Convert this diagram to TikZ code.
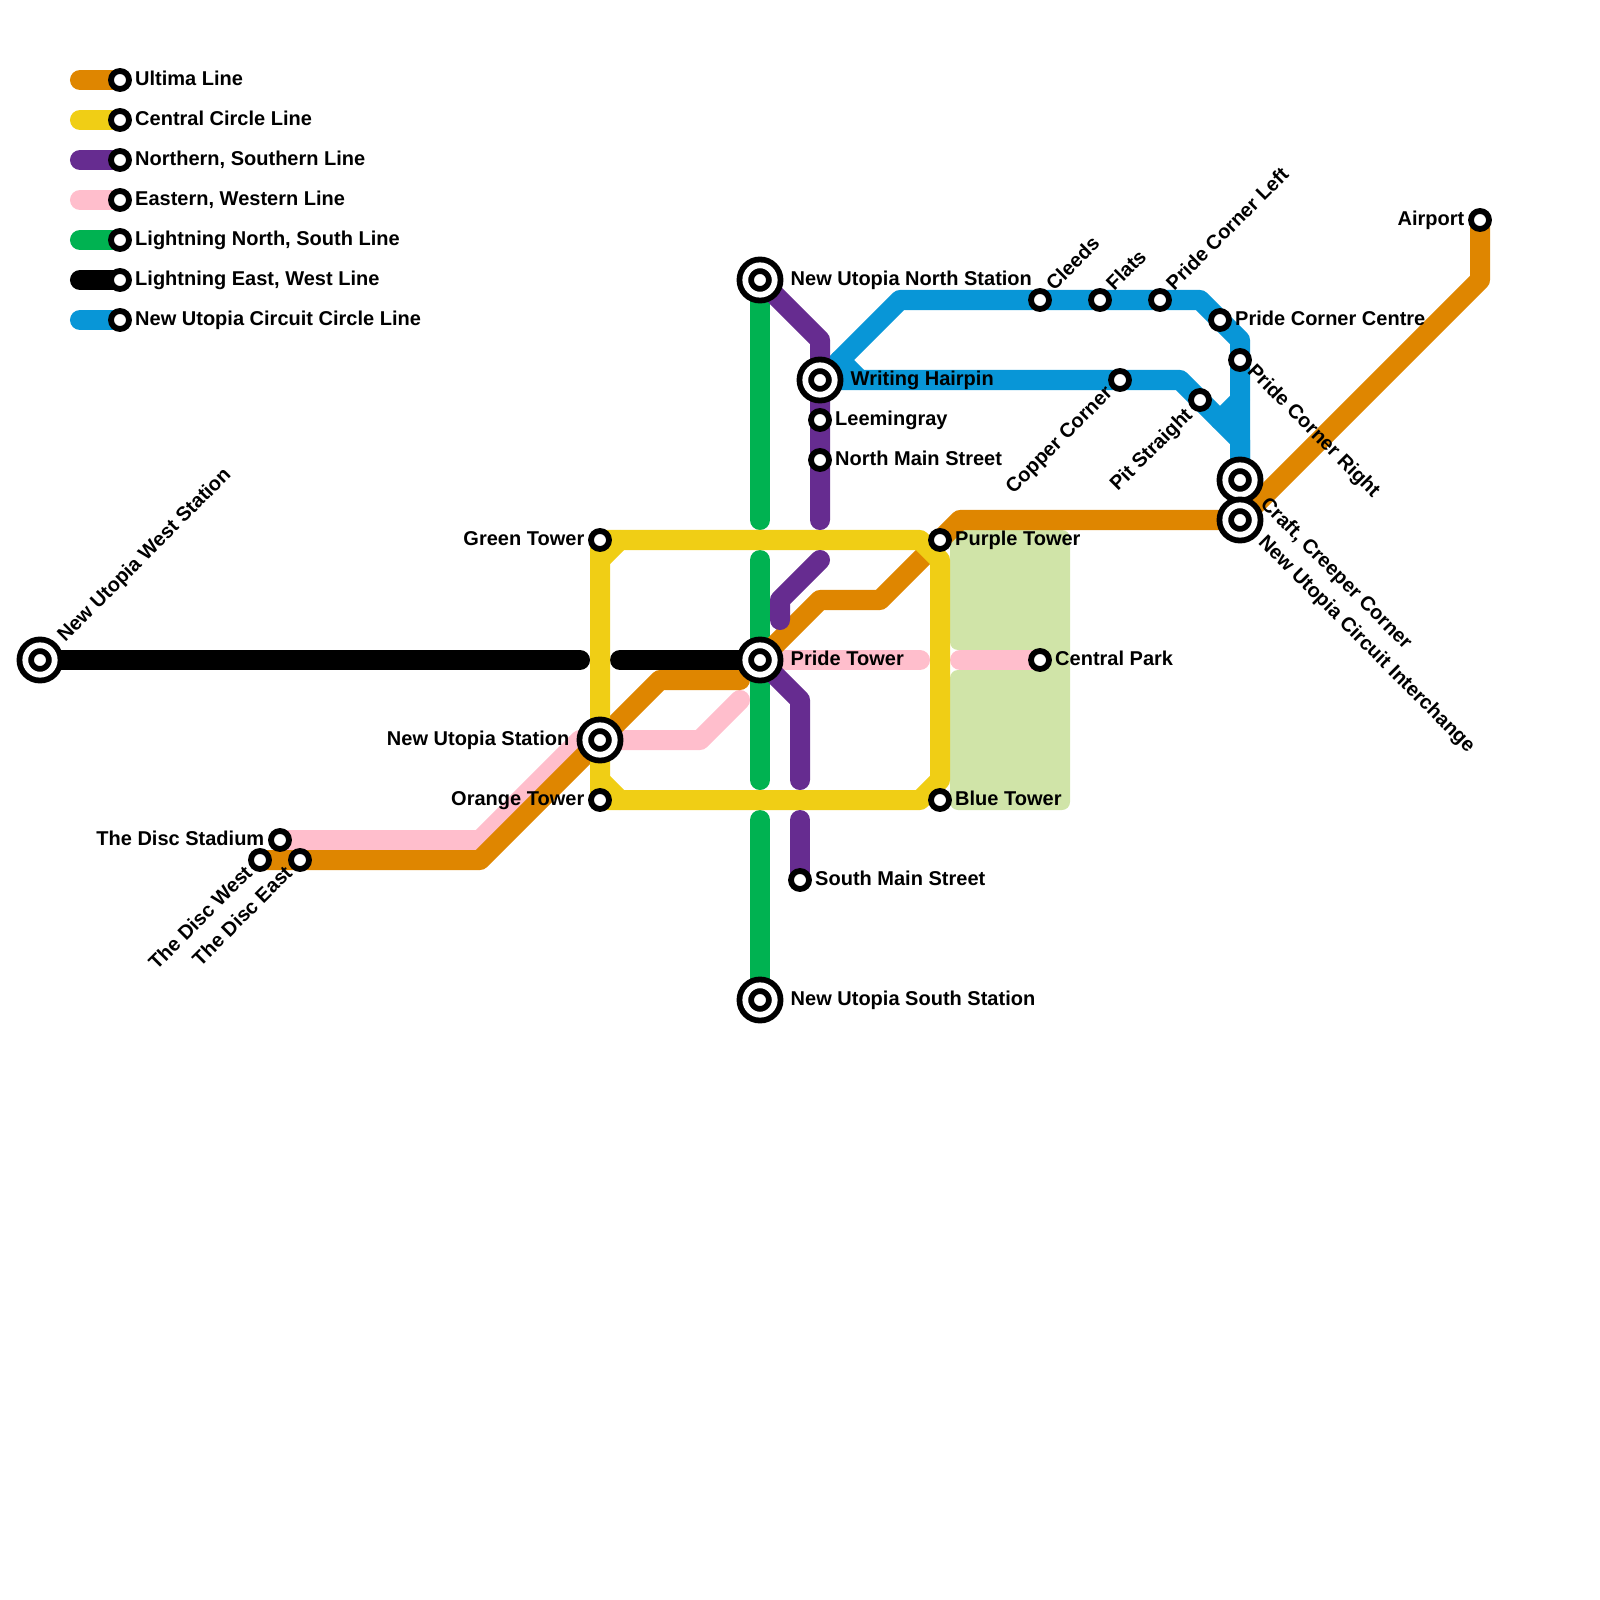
\documentclass[tikz,border=0pt]{standalone}
\usepackage{fontspec}
\setmainfont{Liberation Sans}
\usetikzlibrary{positioning}
\definecolor{ultima}{HTML}{DF8600}
\definecolor{central}{HTML}{F0CE15}
\definecolor{northern}{HTML}{662C90}
\definecolor{eastern}{HTML}{FFBECC}
\definecolor{lightning}{HTML}{00B251}
\definecolor{circuit}{HTML}{0896D7}
\definecolor{parkland}{HTML}{D0E4A8}
\tikzset{
  metro/.style={line width=.2cm,line cap=round,line join=round},
  stn/.style={shape=circle,draw=black,fill=white,line width=.058cm,inner sep=0pt,outer sep=0pt,minimum size=.18cm},
  bigstn/.style={shape=circle,draw=black,fill=white,line width=.058cm,double=white,double distance=.058cm,inner sep=0pt,outer sep=0pt,minimum size=.294cm},
  txt/.style={font=\fontsize{5.69}{7}\selectfont\bfseries,inner sep=0pt,text height=.15cm,text depth=.04cm},
  rlbl/.style={txt,right=.055cm of #1},
  llbl/.style={txt,left=.06cm of #1},
  bigrlbl/.style={txt,right=.153cm of #1},
  biglbl/.style={txt,left=.153cm of #1},
  uplbl/.style={txt,rotate=45,anchor=west},
  downlbl/.style={txt,rotate=-45,anchor=west},
  backlbl/.style={txt,rotate=45,anchor=east}
}
\begin{document}
\begin{tikzpicture}[x=.01cm,y=-.01cm]
\useasboundingbox (0,0) rectangle (1600,1600);

\fill[parkland,rounded corners=.08cm] (950,650) -- (1040,650) -- (1040,670) -- (950,670) -- (950,810) -- (1070,810) -- (1070,530) -- (950,530) -- cycle;

% stations
\coordinate (utopiawest) at (40,660);
\coordinate (utopianorth) at (760,280);
\coordinate (utopiasouth) at (760,1000);
\coordinate (utopiamain) at (600,740);
\coordinate (pride) at (760,660);
\coordinate (hairpin) at (820,380);
\coordinate (craft) at (1240,480);
\coordinate (interchange) at (1240,520);
\coordinate (greentower) at (600,540);
\coordinate (orangetower) at (600,800);
\coordinate (purpletower) at (940,540);
\coordinate (bluetower) at (940,800);
\coordinate (centralpark) at (1040,660);
\coordinate (southmain) at (800,880);
\coordinate (stadium) at (280,840);
\coordinate (discwest) at (260,860);
\coordinate (disceast) at (300,860);
\coordinate (airport) at (1480,220);

% free ends at the gaps
\coordinate (blackl) at (580,660);
\coordinate (blackr) at (620,660);
\coordinate (greena) at (760,520);
\coordinate (greenb) at (760,560);
\coordinate (greenc) at (760,780);
\coordinate (greend) at (760,820);
\coordinate (purplea) at (820,520);
\coordinate (purpleb) at (820,560);
\coordinate (purplec) at (780,620);
\coordinate (purpled) at (800,780);
\coordinate (purplee) at (800,820);
\coordinate (orangeend) at (740,680);
\coordinate (pinkend) at (740,700);
\coordinate (pinka) at (920,660);
\coordinate (pinkb) at (960,660);
\coordinate (yellowa) at (620,540);
\coordinate (yellowb) at (600,560);
\coordinate (yellowc) at (600,780);
\coordinate (yellowd) at (620,800);
\coordinate (hooka) at (860,380);
\coordinate (hookb) at (840,360);
\coordinate (spura) at (1240,400);
\coordinate (spurb) at (1220,420);

% lines
\draw[metro,lightning] (utopianorth) -- (greena);
\draw[metro,lightning] (greenb) -- (greenc);
\draw[metro,lightning] (greend) -- (utopiasouth);
\draw[metro,black] (utopiawest) -- (blackl);
\draw[metro,black] (blackr) -- (pride);
\draw[metro,eastern] (stadium) -- (480,840) -- (580,740) -- (700,740) -- (pinkend);
\draw[metro,eastern] (pride) -- (pinka);
\draw[metro,eastern] (pinkb) -- (centralpark);
\draw[metro,circuit] (hairpin) -- (900,300) -- (1200,300) -- (1240,340) -- (craft);
\draw[metro,circuit] (hairpin) -- (1180,380) -- (1240,440) -- (craft);
\draw[metro,circuit] (hooka) -- (hookb);
\draw[metro,circuit] (spura) -- (spurb);
\draw[metro,ultima] (discwest) -- (480,860) -- (660,680) -- (orangeend);
\draw[metro,ultima] (pride) -- (820,600) -- (880,600) -- (960,520) -- (interchange);
\draw[metro,ultima] (interchange) -- (1480,280) -- (airport);
\draw[metro,central] (greentower) -- (920,540) -- (940,560) -- (940,780) -- (920,800) -- (orangetower) -- (greentower);
\draw[metro,central] (yellowa) -- (yellowb);
\draw[metro,central] (yellowc) -- (yellowd);
\draw[metro,northern] (utopianorth) -- (820,340) -- (purplea);
\draw[metro,northern] (purpleb) -- (780,600) -- (purplec);
\draw[metro,northern] (pride) -- (800,700) -- (purpled);
\draw[metro,northern] (purplee) -- (southmain);

% legend
\coordinate (keya) at (80,80);
\coordinate (keyb) at (80,120);
\coordinate (keyc) at (80,160);
\coordinate (keyd) at (80,200);
\coordinate (keye) at (80,240);
\coordinate (keyf) at (80,280);
\coordinate (keyg) at (80,320);
\coordinate (stopa) at (120,80);
\coordinate (stopb) at (120,120);
\coordinate (stopc) at (120,160);
\coordinate (stopd) at (120,200);
\coordinate (stope) at (120,240);
\coordinate (stopf) at (120,280);
\coordinate (stopg) at (120,320);
\draw[metro,ultima] (keya) -- (stopa);
\draw[metro,central] (keyb) -- (stopb);
\draw[metro,northern] (keyc) -- (stopc);
\draw[metro,eastern] (keyd) -- (stopd);
\draw[metro,lightning] (keye) -- (stope);
\draw[metro,black] (keyf) -- (stopf);
\draw[metro,circuit] (keyg) -- (stopg);
\node[stn] (ultimakey) at (stopa) {};
\node[stn] (centralkey) at (stopb) {};
\node[stn] (northernkey) at (stopc) {};
\node[stn] (easternkey) at (stopd) {};
\node[stn] (lightningkey) at (stope) {};
\node[stn] (blackkey) at (stopf) {};
\node[stn] (circuitkey) at (stopg) {};
\node[rlbl=ultimakey] (ultimatxt) {Ultima Line};
\node[rlbl=centralkey] (centraltxt) {Central Circle Line};
\node[rlbl=northernkey] (northerntxt) {Northern, Southern Line};
\node[rlbl=easternkey] (easterntxt) {Eastern, Western Line};
\node[rlbl=lightningkey] (lightningtxt) {Lightning North, South Line};
\node[rlbl=blackkey] (blacktxt) {Lightning East, West Line};
\node[rlbl=circuitkey] (circuittxt) {New Utopia Circuit Circle Line};

% station markers
\node[bigstn] (s1) at (utopiawest) {};
\node[bigstn] (s2) at (utopianorth) {};
\node[bigstn] (s3) at (utopiasouth) {};
\node[bigstn] (s4) at (utopiamain) {};
\node[bigstn] (s5) at (pride) {};
\node[bigstn] (s6) at (hairpin) {};
\node[bigstn] (s7) at (craft) {};
\node[bigstn] (s8) at (interchange) {};
\node[stn] (s9) at (greentower) {};
\node[stn] (s10) at (orangetower) {};
\node[stn] (s11) at (purpletower) {};
\node[stn] (s12) at (bluetower) {};
\node[stn] (s13) at (centralpark) {};
\node[stn] (s14) at (southmain) {};
\node[stn] (s15) at (stadium) {};
\node[stn] (s16) at (discwest) {};
\node[stn] (s17) at (disceast) {};
\node[stn] (s18) at (820,420) {};
\node[stn] (s19) at (820,460) {};
\node[stn] (s20) at (1040,300) {};
\node[stn] (s21) at (1100,300) {};
\node[stn] (s22) at (1160,300) {};
\node[stn] (s23) at (1220,320) {};
\node[stn] (s24) at (1240,360) {};
\node[stn] (s25) at (1120,380) {};
\node[stn] (s26) at (1200,400) {};
\node[stn] (s27) at (airport) {};

% station names
\node[uplbl] (t1) at ([shift={(21,-21)}]s1.center) {New Utopia West Station};
\node[bigrlbl=s2] (t2) {New Utopia North Station};
\node[bigrlbl=s3] (t3) {New Utopia South Station};
\node[biglbl=s4] (t4) {New Utopia Station};
\node[bigrlbl=s5] (t5) {Pride Tower};
\node[bigrlbl=s6] (t6) {Writing Hairpin};
\node[downlbl] (t7) at ([shift={(23,21)}]s7.center) {Craft, Creeper Corner};
\node[downlbl] (t8) at ([shift={(21,19)}]s8.center) {New Utopia Circuit Interchange};
\node[llbl=s9] (t9) {Green Tower};
\node[llbl=s10] (t10) {Orange Tower};
\node[rlbl=s11] (t11) {Purple Tower};
\node[rlbl=s12] (t12) {Blue Tower};
\node[rlbl=s13] (t13) {Central Park};
\node[rlbl=s14] (t14) {South Main Street};
\node[llbl=s15] (t15) {The Disc Stadium};
\node[backlbl] (t16) at ([shift={(-10,10)}]s16.center) {The Disc West};
\node[backlbl] (t17) at ([shift={(-10,10)}]s17.center) {The Disc East};
\node[rlbl=s18] (t18) {Leemingray};
\node[rlbl=s19] (t19) {North Main Street};
\node[uplbl] (t20) at ([shift={(10,-12)}]s20.center) {Cleeds};
\node[uplbl] (t21) at ([shift={(10,-12)}]s21.center) {Flats};
\node[uplbl] (t22) at ([shift={(10,-12)}]s22.center) {Pride Corner Left};
\node[rlbl=s23] (t23) {Pride Corner Centre};
\node[downlbl] (t24) at ([shift={(10,8)}]s24.center) {Pride Corner Right};
\node[backlbl] (t25) at ([shift={(-10,10)}]s25.center) {Copper Corner};
\node[backlbl] (t26) at ([shift={(-10,12)}]s26.center) {Pit Straight};
\node[llbl=s27] (t27) {Airport};
\end{tikzpicture}
\end{document}
